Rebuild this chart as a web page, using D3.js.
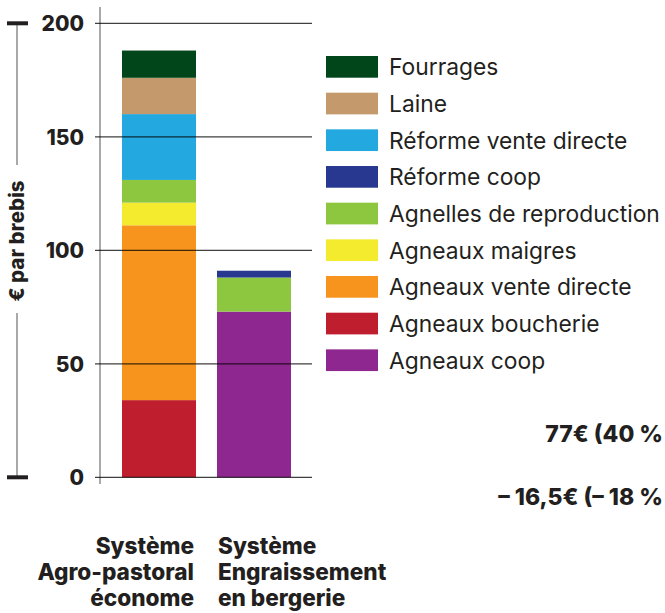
<!DOCTYPE html>
<html><head><meta charset="utf-8">
<script src="https://cdn.jsdelivr.net/npm/d3@7"></script>
<style>
body{margin:0;background:#fff}
text{font-family:Inter, "Liberation Sans", sans-serif; fill:#231f20}
</style>
</head><body>
<script>
// data (€ par brebis)
var systems = ["Agro-pastoral", "Engraissement"];
var systemLabels = [["Système", "Agro-pastoral", "économe"], ["Système", "Engraissement", "en bergerie"]];
// stack order, bottom to top
var series = ["Agneaux coop", "Agneaux boucherie", "Agneaux vente directe", "Agneaux maigres",
              "Agnelles de reproduction", "Réforme coop", "Réforme vente directe", "Laine", "Fourrages"];
var colors = ["#8e278f", "#be1e2d", "#f7941d", "#f4ea2e", "#8dc63f", "#283890", "#23a8e0", "#c49a6c", "#00461a"];
var agroValues = [0, 34, 77, 10, 10, 0, 29, 16, 12];
var engrValues = [73, 0, 0, 0, 15, 3, 0, 0, 0];
var yTicks = [0, 50, 100, 150, 200];
var notes = ["77€ (40 %", "– 16,5€ (– 18 %"];

var w = 665, h = 613;
var svg = d3.select("body").append("svg").attr("width", w).attr("height", h);

var y = d3.scaleLinear().domain([0, 200]).range([477.3, 23.3]);
var x = d3.scaleBand().domain(systems).range([122, 291]).paddingInner(0.221).paddingOuter(0);

// build table for the stack
var table = systems.map(function(s, i) {
  var row = {system: s};
  series.forEach(function(k, j) { row[k] = i == 0 ? agroValues[j] : engrValues[j]; });
  return row;
});
var stacked = d3.stack().keys(series)(table);

// left bracket with label
svg.append("line").attr("x1", 17).attr("x2", 17).attr("y1", y(200)).attr("y2", 165)
  .attr("stroke", "#8c8c8c").attr("stroke-width", 1.5);
svg.append("line").attr("x1", 17).attr("x2", 17).attr("y1", 313).attr("y2", y(0))
  .attr("stroke", "#8c8c8c").attr("stroke-width", 1.5);
[200, 0].forEach(function(v) {
  svg.append("rect").attr("x", 7).attr("y", y(v) - 2).attr("width", 21).attr("height", 4).attr("fill", "#231f20");
});
svg.append("text")
  .attr("transform", "translate(24," + 241 + ") rotate(-90)")
  .attr("text-anchor", "middle")
  .style("font-weight", 800).style("font-size", "20.5px")
  .text("€ par brebis");

// vertical axis line
svg.append("line").attr("x1", 100).attr("x2", 100).attr("y1", 7).attr("y2", 484)
  .attr("stroke", "#8c8c8c").attr("stroke-width", 1.5);

// bars
svg.append("g").selectAll("g")
  .data(stacked)
  .enter().append("g")
    .attr("fill", function(d, i) { return colors[i]; })
  .selectAll("rect")
  .data(function(d) { return d; })
  .enter().append("rect")
    .attr("x", function(d) { return x(d.data.system); })
    .attr("y", function(d) { return y(d[1]); })
    .attr("width", x.bandwidth())
    .attr("height", function(d) { return y(d[0]) - y(d[1]); });

// gridlines on top of bars
svg.append("g").selectAll("line")
  .data(yTicks)
  .enter().append("line")
    .attr("x1", 95).attr("x2", 312)
    .attr("y1", function(d) { return y(d); })
    .attr("y2", function(d) { return y(d); })
    .attr("stroke", "#000").attr("stroke-opacity", 0.75).attr("stroke-width", 1.2);

// y tick labels
var yAxis = d3.axisLeft(y).tickValues(yTicks).tickSize(0).tickPadding(0);
var yg = svg.append("g").attr("transform", "translate(84,0)").call(yAxis);
yg.select(".domain").remove();
yg.selectAll("text")
  .attr("fill", "#231f20")
  .attr("dy", "0.36em")
  .style("font-family", "Inter").style("font-weight", 800).style("font-size", "21px");

// x labels
systemLabels.forEach(function(lines, i) {
  var left = i == 0;
  var t = svg.append("text")
    .attr("text-anchor", left ? "end" : "start")
    .style("font-weight", 800).style("font-size", "22.6px");
  lines.forEach(function(l, j) {
    t.append("tspan")
      .attr("x", left ? x(systems[i]) + x.bandwidth() - 2 : x(systems[i]) + 1)
      .attr("y", 554 + j * 26)
      .text(l);
  });
});

// legend, top to bottom
var legendOrder = series.slice().reverse();
var lg = svg.append("g").selectAll("g")
  .data(legendOrder)
  .enter().append("g")
    .attr("transform", function(d, i) { return "translate(326," + (56 + i * 36.67) + ")"; });
lg.append("rect")
  .attr("width", 52).attr("height", 21.7)
  .attr("fill", function(d) { return colors[series.indexOf(d)]; });
lg.append("text")
  .attr("x", 63).attr("y", 11).attr("dy", "0.36em")
  .style("font-size", "22.8px")
  .text(function(d) { return d; });

// notes on the right
svg.append("text").attr("x", 663).attr("y", 442).attr("text-anchor", "end")
  .style("font-weight", 800).style("font-size", "23px").text(notes[0]);
svg.append("text").attr("x", 663).attr("y", 505).attr("text-anchor", "end")
  .style("font-weight", 800).style("font-size", "23px").text(notes[1]);
</script>
</body></html>
